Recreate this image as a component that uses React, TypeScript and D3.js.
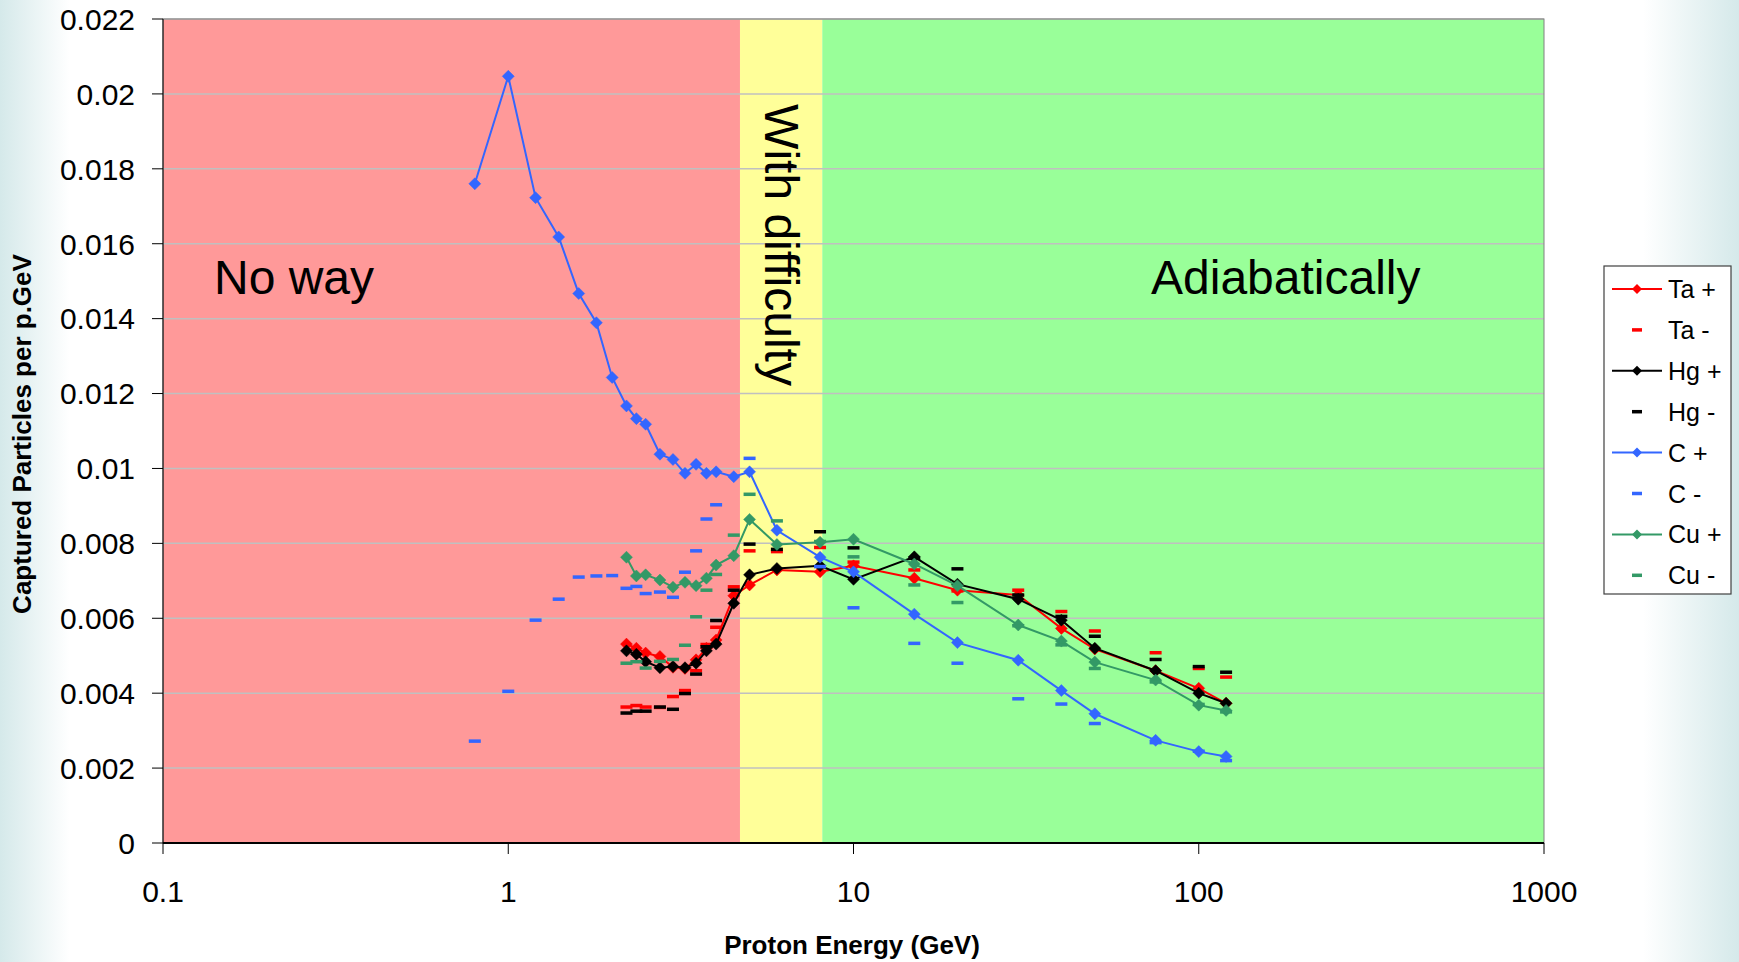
import React from "react";
import * as d3 from "d3";

// ---- Data ----
const energiesC = [0.8, 1, 1.2, 1.4, 1.6, 1.8, 2.0, 2.2, 2.35, 2.5, 2.75, 3.0, 3.25, 3.5, 3.75, 4.0, 4.5, 5, 6, 8, 10, 15, 20, 30, 40, 50, 75, 100, 120];
const energies = [2.2, 2.35, 2.5, 2.75, 3.0, 3.25, 3.5, 3.75, 4.0, 4.5, 5, 6, 8, 10, 15, 20, 30, 40, 50, 75, 100, 120];

const taPlus = [0.00531, 0.0052, 0.00507, 0.00498, 0.00469, 0.00466, 0.00489, 0.0052, 0.00542, 0.0066, 0.00689, 0.00729, 0.00724, 0.0074, 0.00707, 0.00675, 0.00662, 0.00573, 0.00518, 0.0046, 0.00413, 0.00373];
const taMinus = [0.00363, 0.00367, 0.00363, 0.00362, 0.00391, 0.00407, 0.0046, 0.0053, 0.00576, 0.00684, 0.0078, 0.00778, 0.00789, 0.0075, 0.00729, 0.00673, 0.00675, 0.00618, 0.00566, 0.00508, 0.00466, 0.00443];
const hgPlus = [0.00513, 0.00504, 0.00484, 0.00468, 0.00471, 0.00468, 0.0048, 0.00513, 0.00531, 0.0064, 0.00716, 0.00733, 0.0074, 0.00704, 0.00764, 0.00691, 0.00651, 0.00595, 0.0052, 0.0046, 0.004, 0.00373];
const hgMinus = [0.00347, 0.00352, 0.00352, 0.00363, 0.00357, 0.00399, 0.00451, 0.00524, 0.00594, 0.00675, 0.00798, 0.00784, 0.00831, 0.00788, 0.0076, 0.00732, 0.00662, 0.00605, 0.00552, 0.0049, 0.00471, 0.00456];
const cPlus = [0.0176, 0.02047, 0.01723, 0.01618, 0.01467, 0.01389, 0.01243, 0.01167, 0.01133, 0.01118, 0.01038, 0.01024, 0.00987, 0.01011, 0.00987, 0.00991, 0.00978, 0.00991, 0.00835, 0.00763, 0.00724, 0.00611, 0.00535, 0.00488, 0.00407, 0.00345, 0.00274, 0.00244, 0.00231];
const cMinus: (number | null)[] = [0.00272, 0.00405, 0.00595, 0.00651, 0.0071, 0.00713, 0.00714, 0.0068, 0.00685, 0.00666, 0.0067, 0.00656, 0.00723, 0.0078, 0.00865, 0.00903, null, 0.01027, null, 0.00738, 0.00628, 0.00533, 0.0048, 0.00385, 0.00371, 0.00319, 0.00268, 0.00245, 0.0022];
const cuPlus = [0.00763, 0.00713, 0.00716, 0.00702, 0.00683, 0.00696, 0.00687, 0.00707, 0.00742, 0.00767, 0.00864, 0.00797, 0.00803, 0.00811, 0.00745, 0.00687, 0.00582, 0.00539, 0.00483, 0.00435, 0.00368, 0.00354];
const cuMinus = [0.0048, 0.00484, 0.00467, 0.00485, 0.0049, 0.00528, 0.00604, 0.00675, 0.00717, 0.00822, 0.00931, 0.0086, 0.00805, 0.00764, 0.00689, 0.00642, 0.0058, 0.00529, 0.00466, 0.0043, 0.0037, 0.0035];

const regionBounds = [0.1, 4.69, 8.12, 1000];
const regionColors = ["#FF9999", "#FFFF99", "#99FF99"];

const xTicks = [0.1, 1, 10, 100, 1000];
const xTickLabels = ["0.1", "1", "10", "100", "1000"];
const yTicks = [0, 0.002, 0.004, 0.006, 0.008, 0.01, 0.012, 0.014, 0.016, 0.018, 0.02, 0.022];
const yTickLabels = ["0", "0.002", "0.004", "0.006", "0.008", "0.01", "0.012", "0.014", "0.016", "0.018", "0.02", "0.022"];

type Series = { name: string; xs: number[]; ys: (number | null)[]; color: string; kind: "line" | "dash" };
const seriesList: Series[] = [
  { name: "Ta +", xs: energies, ys: taPlus, color: "#FF0000", kind: "line" },
  { name: "Ta -", xs: energies, ys: taMinus, color: "#FF0000", kind: "dash" },
  { name: "Hg +", xs: energies, ys: hgPlus, color: "#000000", kind: "line" },
  { name: "Hg -", xs: energies, ys: hgMinus, color: "#000000", kind: "dash" },
  { name: "C +", xs: energiesC, ys: cPlus, color: "#3366FF", kind: "line" },
  { name: "C -", xs: energiesC, ys: cMinus, color: "#3366FF", kind: "dash" },
  { name: "Cu +", xs: energies, ys: cuPlus, color: "#339966", kind: "line" },
  { name: "Cu -", xs: energies, ys: cuMinus, color: "#339966", kind: "dash" },
];

const W = 1739, H = 962;
const P = { left: 163, right: 1544, top: 19, bottom: 843 };
const FONT = "'Liberation Sans', Arial, Helvetica, sans-serif";

const diamond = (cx: number, cy: number, r: number) =>
  `M${cx},${cy - r}L${cx + r},${cy}L${cx},${cy + r}L${cx - r},${cy}Z`;

export default function App() {
  const x = d3.scaleLog().domain([0.1, 1000]).range([P.left, P.right]);
  const y = d3.scaleLinear().domain([0, 0.022]).range([P.bottom, P.top]);

  const legendX = 1604, legendY = 266, legendW = 127, legendH = 328;
  const rowY0 = 289, rowStep = 40.9;

  return (
    <svg width={W} height={H} style={{ position: "absolute", left: 0, top: 0 }} fontFamily={FONT}>
      <defs>
        <linearGradient id="bg" x1="0" x2="1" y1="0" y2="0">
          <stop offset="0" stopColor="#d5e9ea" />
          <stop offset="0.04" stopColor="#ffffff" />
          <stop offset="0.945" stopColor="#ffffff" />
          <stop offset="1" stopColor="#d5e9ea" />
        </linearGradient>
        <clipPath id="plotclip">
          <rect x={P.left} y={P.top} width={P.right - P.left} height={P.bottom - P.top} />
        </clipPath>
      </defs>
      <rect x={0} y={0} width={W} height={H} fill="url(#bg)" />

      {/* regions */}
      {regionColors.map((c, i) => (
        <rect key={i} x={x(regionBounds[i])} y={P.top} width={x(regionBounds[i + 1]) - x(regionBounds[i])} height={P.bottom - P.top} fill={c} />
      ))}

      {/* gridlines */}
      {yTicks.filter((t) => t > 0).map((t) => (
        <line key={t} x1={P.left} x2={P.right} y1={y(t)} y2={y(t)} stroke="#C0C0C0" strokeWidth={1.5} />
      ))}

      {/* plot frame */}
      <rect x={P.left} y={P.top} width={P.right - P.left} height={P.bottom - P.top} fill="none" stroke="#808080" strokeWidth={1} />

      {/* region labels */}
      <text x={214} y={294} fontSize={48} fill="#000">No way</text>
      <text x={1151} y={294} fontSize={48} fill="#000">Adiabatically</text>
      <text transform="translate(765,245) rotate(90)" textAnchor="middle" fontSize={48} fill="#000">With difficulty</text>

      {/* series */}
      <g clipPath="url(#plotclip)">
        {seriesList.map((s) => {
          const pts = s.xs.map((xv, i) => [xv, s.ys[i]] as [number, number | null]).filter((p) => p[1] !== null) as [number, number][];
          if (s.kind === "line") {
            const line = d3.line<[number, number]>().x((d) => x(d[0])).y((d) => y(d[1]));
            return (
              <g key={s.name}>
                <path d={line(pts) || ""} fill="none" stroke={s.color} strokeWidth={2} />
                {pts.map((p, i) => (
                  <path key={i} d={diamond(x(p[0]), y(p[1]), 6)} fill={s.color} stroke={s.color} strokeWidth={0.5} />
                ))}
              </g>
            );
          }
          return (
            <g key={s.name}>
              {pts.map((p, i) => (
                <rect key={i} x={x(p[0]) - 6} y={y(p[1]) - 1.75} width={12} height={3.5} fill={s.color} />
              ))}
            </g>
          );
        })}
      </g>

      {/* axes */}
      <line x1={P.left} x2={P.right} y1={P.bottom} y2={P.bottom} stroke="#000" strokeWidth={2} />
      <line x1={P.left} x2={P.left} y1={P.top} y2={P.bottom} stroke="#000" strokeWidth={1} />
      {xTicks.map((t, i) => (
        <g key={t}>
          <line x1={x(t)} x2={x(t)} y1={P.bottom} y2={P.bottom + 11} stroke="#000" strokeWidth={1} />
          <text x={x(t)} y={902} textAnchor="middle" fontSize={30} fill="#000">{xTickLabels[i]}</text>
        </g>
      ))}
      {yTicks.map((t, i) => (
        <g key={t}>
          <line x1={P.left - 11} x2={P.left} y1={y(t)} y2={y(t)} stroke="#000" strokeWidth={1} />
          <text x={135} y={y(t)} dy="0.36em" textAnchor="end" fontSize={30} fill="#000">{yTickLabels[i]}</text>
        </g>
      ))}

      {/* axis titles */}
      <text x={852} y={954} textAnchor="middle" fontSize={26} fontWeight="bold" fill="#000">Proton Energy (GeV)</text>
      <text transform="translate(31,434) rotate(-90)" textAnchor="middle" fontSize={26} fontWeight="bold" fill="#000">Captured Particles per p.GeV</text>

      {/* legend */}
      <rect x={legendX} y={legendY} width={legendW} height={legendH} fill="#ffffff" stroke="#404040" strokeWidth={1.2} />
      {seriesList.map((s, i) => {
        const cy = rowY0 + i * rowStep;
        return (
          <g key={s.name}>
            {s.kind === "line" ? (
              <>
                <line x1={1612} x2={1662} y1={cy} y2={cy} stroke={s.color} strokeWidth={2} />
                <path d={diamond(1637, cy, 5)} fill={s.color} />
              </>
            ) : (
              <rect x={1632} y={cy - 1.75} width={10} height={3.5} fill={s.color} />
            )}
            <text x={1668} y={cy} dy="0.36em" fontSize={25} fill="#000">{s.name}</text>
          </g>
        );
      })}
    </svg>
  );
}
